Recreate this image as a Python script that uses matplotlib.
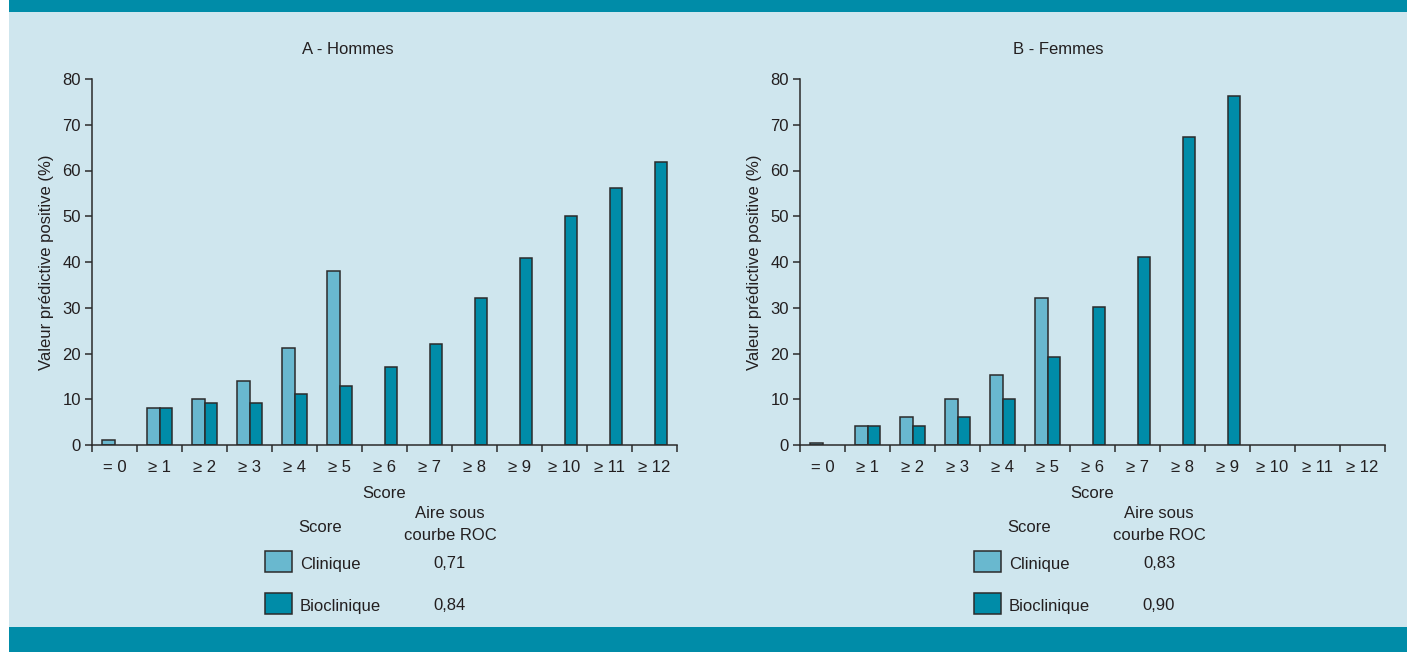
import matplotlib
matplotlib.use("Agg")
import matplotlib.pyplot as plt
from matplotlib.patches import Rectangle
import numpy as np

plt.rcParams['font.family'] = ['Liberation Sans Narrow', 'Liberation Sans', 'DejaVu Sans']

# data
categories = ["= 0", "≥ 1", "≥ 2", "≥ 3", "≥ 4", "≥ 5", "≥ 6", "≥ 7",
              "≥ 8", "≥ 9", "≥ 10", "≥ 11", "≥ 12"]

hommes_clinique = [1, 8, 10, 13.9, 21.2, 38.1, None, None, None, None, None, None, None]
hommes_bioclinique = [None, 8, 9.2, 9.2, 11.2, 13, 17, 22.1, 32.2, 40.9, 50.1, 56.1, 61.9]
femmes_clinique = [0.5, 4.1, 6.2, 10.1, 15.2, 32.1, None, None, None, None, None, None, None]
femmes_bioclinique = [None, 4.1, 4.1, 6.2, 10.1, 19.2, 30.2, 41.2, 67.3, 76.2, None, None, None]

roc_hommes = ["0,71", "0,84"]
roc_femmes = ["0,83", "0,90"]

BG = "#cfe6ee"
TEAL = "#008ca8"
LIGHT = "#69b8cf"
EDGE = "#2b2b2b"
TXT = "#231f20"

W, H = 1407, 652
fig = plt.figure(figsize=(W / 100, H / 100), dpi=100, facecolor="white")


def fx(px):
    return px / W


def fy(py):
    return 1 - py / H


# frame: light panel and teal bands
fig.patches.append(Rectangle((fx(9), 0), 1 - fx(9), 1, transform=fig.transFigure,
                             facecolor=BG, edgecolor="none", zorder=-3))
fig.patches.append(Rectangle((fx(9), fy(12)), 1 - fx(9), fy(0) - fy(12), transform=fig.transFigure,
                             facecolor=TEAL, edgecolor="none", zorder=-2))
fig.patches.append(Rectangle((fx(9), 0), 1 - fx(9), fy(627), transform=fig.transFigure,
                             facecolor=TEAL, edgecolor="none", zorder=-2))


def draw_panel(left_px, clin, bio, title, roc, title_x, shift):
    ax = fig.add_axes([fx(left_px), fy(445), fx(585), fy(79) - fy(445)])
    ax.set_facecolor("none")
    x = np.arange(len(categories))
    w = 0.28
    cv = [np.nan if v is None else v for v in clin]
    bv = [np.nan if v is None else v for v in bio]
    ax.bar(x - w / 2, cv, w, color=LIGHT, edgecolor=EDGE, linewidth=1.1)
    ax.bar(x + w / 2, bv, w, color=TEAL, edgecolor=EDGE, linewidth=1.1)
    ax.set_xlim(-0.5, len(categories) - 0.5)
    ax.set_ylim(0, 80)
    ax.set_yticks(range(0, 81, 10))
    ax.set_xticks(x)
    ax.set_xticklabels(categories)
    ax.set_xticks(np.arange(-0.5, len(categories)), minor=True)
    ax.tick_params(axis="x", which="major", length=0, pad=11, labelsize=12, labelcolor=TXT)
    ax.tick_params(axis="x", which="minor", length=5, width=1.1, color=EDGE, direction="out")
    ax.tick_params(axis="y", length=5, width=1.1, color=EDGE, labelsize=12, labelcolor=TXT, pad=3)
    for s in ["top", "right"]:
        ax.spines[s].set_visible(False)
    for s in ["left", "bottom"]:
        ax.spines[s].set_color(EDGE)
        ax.spines[s].set_linewidth(1.1)
    ax.set_ylabel("Valeur prédictive positive (%)", fontsize=12, color=TXT, labelpad=6)
    ax.set_xlabel("Score", fontsize=12, color=TXT, labelpad=8)

    fig.text(fx(title_x), fy(50), title, ha="center", va="center", fontsize=12, color=TXT)

    # legend block
    fig.text(fx(320 + shift), fy(527), "Score", ha="center", va="center", fontsize=12, color=TXT)
    fig.text(fx(450 + shift), fy(514), "Aire sous", ha="center", va="center", fontsize=12, color=TXT)
    fig.text(fx(450 + shift), fy(535), "courbe ROC", ha="center", va="center", fontsize=12, color=TXT)
    names = ["Clinique", "Bioclinique"]
    cols = [LIGHT, TEAL]
    for i, (name, col, val) in enumerate(zip(names, cols, roc)):
        yc = 561 + i * 42
        fig.patches.append(Rectangle((fx(265 + shift), fy(yc + 10.5)), fx(27), fy(0) - fy(21),
                                     transform=fig.transFigure, facecolor=col,
                                     edgecolor=EDGE, linewidth=1.1))
        fig.text(fx(300 + shift), fy(yc + 3), name, ha="left", va="center", fontsize=12, color=TXT)
        fig.text(fx(450 + shift), fy(yc + 3), val, ha="center", va="center", fontsize=12, color=TXT)
    return ax


draw_panel(92, hommes_clinique, hommes_bioclinique, "A - Hommes", roc_hommes, 348, 0)
draw_panel(800, femmes_clinique, femmes_bioclinique, "B - Femmes", roc_femmes, 1058, 709)

fig.savefig("out.png", dpi=100, facecolor=fig.get_facecolor())
